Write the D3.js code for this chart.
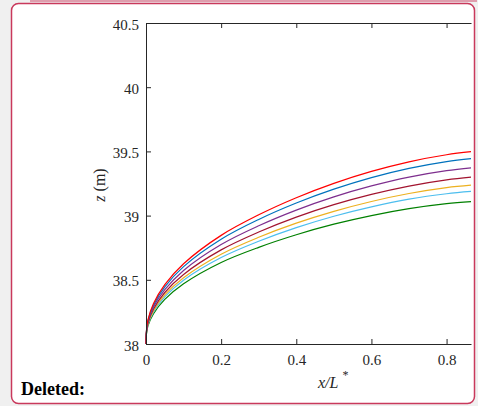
<!DOCTYPE html>
<html>
<head>
<meta charset="utf-8">
<script src="https://cdn.jsdelivr.net/npm/d3@7"></script>
<style>
  body { margin: 0; background: #f0f0f0; }
  svg { display: block; }
  text { font-family: "Liberation Serif", "Times New Roman", "DejaVu Serif", serif; }
</style>
</head>
<body>
<div id="vis"></div>
<script>
// Datos: x/L* y la cota z (m) de cada curva
const xVals = [0, 0.001, 0.005, 0.02, 0.05, 0.1, 0.2, 0.3, 0.4, 0.5, 0.6, 0.7, 0.8, 0.865];

const zRed = [38, 38.095, 38.186, 38.315, 38.462, 38.625, 38.846, 39.006, 39.139, 39.251, 39.344, 39.419, 39.474, 39.498];
const zBlue = [38, 38.092, 38.179, 38.304, 38.445, 38.603, 38.816, 38.970, 39.098, 39.206, 39.296, 39.368, 39.421, 39.444];
const zPurple = [38, 38.087, 38.170, 38.289, 38.423, 38.573, 38.775, 38.921, 39.043, 39.146, 39.231, 39.300, 39.350, 39.372];
const zDarkRed = [38, 38.082, 38.161, 38.273, 38.401, 38.542, 38.733, 38.872, 38.988, 39.085, 39.165, 39.230, 39.278, 39.299];
const zOrange = [38, 38.078, 38.154, 38.260, 38.382, 38.516, 38.699, 38.831, 38.941, 39.033, 39.110, 39.172, 39.218, 39.237];
const zLightBlue = [38, 38.076, 38.148, 38.250, 38.367, 38.497, 38.673, 38.800, 38.906, 38.995, 39.068, 39.128, 39.170, 39.188];
const zGreen = [38, 38.071, 38.140, 38.236, 38.347, 38.469, 38.635, 38.753, 38.851, 38.933, 39.000, 39.054, 39.093, 39.109];

const seriesColors = ["#ff0000", "#0072bd", "#7e2f8e", "#a2142f", "#edb120", "#4dbeee", "#008000"];
const xTicks = [0, 0.2, 0.4, 0.6, 0.8];
const yTicks = [38, 38.5, 39, 39.5, 40, 40.5];

const W = 478, H = 406;
const serif = '"Liberation Serif", "Times New Roman", "DejaVu Serif", serif';

const svg = d3.select("#vis").append("svg")
    .attr("width", W)
    .attr("height", H);

// Marco rosado redondeado
svg.append("line")
    .attr("x1", 30).attr("x2", 477)
    .attr("y1", 1).attr("y2", 1)
    .attr("stroke", "#cf4b6a").attr("stroke-width", 1);
svg.append("rect")
    .attr("x", 11.5).attr("y", 3.5)
    .attr("width", 463).attr("height", 400)
    .attr("rx", 7)
    .attr("fill", "#ffffff")
    .attr("stroke", "#c9395c")
    .attr("stroke-width", 1.5);

// Escalas
const x = d3.scaleLinear().domain([0, 0.865]).range([146, 471]);
const y = d3.scaleLinear().domain([38, 40.5]).range([344, 23]);

const series = [zRed, zBlue, zPurple, zDarkRed, zOrange, zLightBlue, zGreen];

const line = d3.line()
    .x((d, i) => x(xVals[i]))
    .y(d => y(d))
    .curve(d3.curveCatmullRom.alpha(0.5));

// Curvas (la verde abajo, la roja encima)
svg.append("g")
    .selectAll("path")
    .data(series.map((s, i) => ({ s, c: seriesColors[i] })).reverse())
    .join("path")
    .attr("d", d => line(d.s))
    .attr("fill", "none")
    .attr("stroke", d => d.c)
    .attr("stroke-width", 1.2);

const axisColor = "#262626";

// Eje x inferior
const xAxis = svg.append("g")
    .attr("transform", `translate(0, ${y(38)})`)
    .call(d3.axisBottom(x).tickValues(xTicks).tickSizeInner(-5).tickSizeOuter(0)
        .tickFormat(d => d === 0 ? "0" : d3.format(".1f")(d)));
xAxis.attr("font-family", serif);
xAxis.select(".domain").attr("stroke", axisColor);
xAxis.selectAll(".tick line").attr("stroke", axisColor);
xAxis.selectAll(".tick text")
    .attr("y", 10)
    .attr("fill", axisColor)
    .style("font-family", serif)
    .style("font-size", "15px");

// Eje x superior (solo marcas)
const xTop = svg.append("g")
    .attr("transform", `translate(0, ${y(40.5)})`)
    .call(d3.axisTop(x).tickValues(xTicks).tickSizeInner(-5).tickSizeOuter(0).tickFormat(""));
xTop.select(".domain").attr("stroke", axisColor);
xTop.selectAll(".tick line").attr("stroke", axisColor);

// Eje y
const yAxis = svg.append("g")
    .attr("transform", `translate(${x(0)}, 0)`)
    .call(d3.axisLeft(y).tickValues(yTicks).tickSizeInner(-5).tickSizeOuter(0)
        .tickFormat(d => d3.format("")(d)));
yAxis.attr("font-family", serif);
yAxis.select(".domain").attr("stroke", axisColor);
yAxis.selectAll(".tick line").attr("stroke", axisColor);
yAxis.selectAll(".tick text")
    .attr("x", -7)
    .attr("dy", "0.4em")
    .attr("fill", axisColor)
    .style("font-family", serif)
    .style("font-size", "15px");

// Títulos de ejes
const xLabel = svg.append("text")
    .attr("x", 318).attr("y", 388)
    .attr("fill", axisColor)
    .style("font-family", serif)
    .style("font-size", "16px")
    .style("font-style", "italic");
xLabel.append("tspan").text("x/L");
xLabel.append("tspan")
    .attr("dx", 4).attr("dy", -9)
    .style("font-size", "12px")
    .style("font-style", "normal")
    .text("*");

const yLabel = svg.append("text")
    .attr("transform", "translate(105, 185) rotate(-90)")
    .attr("text-anchor", "middle")
    .attr("fill", axisColor)
    .style("font-family", serif)
    .style("font-size", "16px");
yLabel.append("tspan").style("font-style", "italic").text("z");
yLabel.append("tspan").text(" (m)");

// Texto "Deleted:"
svg.append("text")
    .attr("x", 21).attr("y", 395)
    .attr("fill", "#000")
    .style("font-family", serif)
    .style("font-size", "18px")
    .style("font-weight", "bold")
    .text("Deleted:");
</script>
</body>
</html>
